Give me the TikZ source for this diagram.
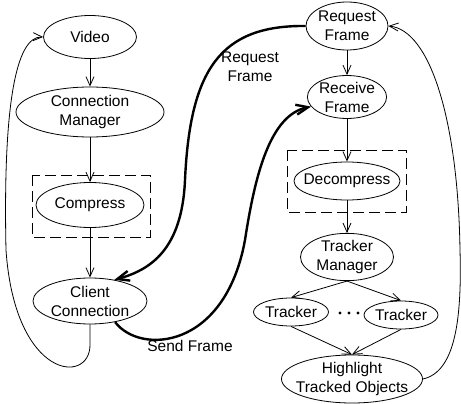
\documentclass[tikz,border=0pt]{standalone}
\usepackage{fontspec}
\setmainfont{Liberation Sans}
\usetikzlibrary{shapes.geometric,arrows.meta}

\begin{document}
\begin{tikzpicture}[x=1pt,y=-1pt,
    blob/.style={ellipse,draw,line width=0.8pt,inner sep=0pt,align=center,
        font=\fontsize{15.5}{19}\selectfont},
    tight/.style={inner xsep=-7pt},
    arr/.style={line width=0.8pt,-{Straight Barb[length=9pt,width=8pt]}},
    fat/.style={line width=2.4pt,-{Straight Barb[length=12pt,width=10pt]}},
    lbl/.style={align=center,font=\fontsize{15.5}{19}\selectfont},
    box/.style={draw,line width=0.8pt,dash pattern=on 11pt off 5pt}]
    \useasboundingbox (0,0) rectangle (461,404);
    \node[blob,minimum width=93,minimum height=43] (V) at (90,37) {Video};
    \node[blob,minimum width=148,minimum height=50] (CM) at (90,112) {Connection\\Manager};
    \node[blob,minimum width=108,minimum height=45] (C) at (90,205) {Compress};
    \node[blob,minimum width=114,minimum height=46] (CC) at (90,301) {Client\\Connection};
    \node[blob,minimum width=82,minimum height=48] (RQ) at (347,26) {Request\\Frame};
    \node[blob,minimum width=76,minimum height=42] (RC) at (347,97) {Receive\\Frame};
    \node[blob,tight,minimum width=106,minimum height=38] (D) at (347,181) {Decompress};
    \node[blob,minimum width=93,minimum height=40] (TM) at (347,257) {Tracker\\Manager};
    \node[blob,minimum width=75,minimum height=28] (T1) at (291,312) {Tracker};
    \node[blob,minimum width=74,minimum height=28] (T2) at (401,315) {Tracker};
    \node[blob,tight,minimum width=141,minimum height=48] (H) at (352,379) {Highlight\\Tracked Objects};
    \node[lbl] (RQL) at (250,67) {Request\\Frame};
    \node[lbl] (SFL) at (190,346) {Send Frame};
    \draw[box] (32,175) rectangle (150,237);
    \draw[box] (287,150) rectangle (406,212);
    \foreach \x in {340,349,358}
        \fill (\x,313) circle (1.6);
    \draw[arr] (V) -- (CM);
    \draw[arr] (CM) -- (C);
    \draw[arr] (C) -- (CC);
    \draw[arr] (RQ) -- (RC);
    \draw[arr] (RC) -- (D);
    \draw[arr] (D) -- (TM);
    \draw[arr] (TM.south) -- (T1.north);
    \draw[arr] (TM.south) -- (T2.north);
    \draw[arr] (T1.south) -- (H.north);
    \draw[arr] (T2.south) -- (H.north);
    \draw[arr] (CC.south) -- (90,345) .. controls (90,385) and (15,380) .. (6,250)
        .. controls (3,110) and (15,36) .. (V.west);
    \draw[arr] (H.east) .. controls (455,372) and (462,320) .. (460,250)
        .. controls (458,120) and (430,30) .. (RQ.east);
    \draw[fat] (RQ.west) .. controls (220,25) and (190,70) .. (185,180)
        .. controls (182,250) and (150,270) .. (CC.41);
    \draw[fat] (CC.-40) .. controls (140,355) and (225,350) .. (245,240)
        .. controls (255,175) and (270,115) .. (RC.195);
\end{tikzpicture}
\end{document}
